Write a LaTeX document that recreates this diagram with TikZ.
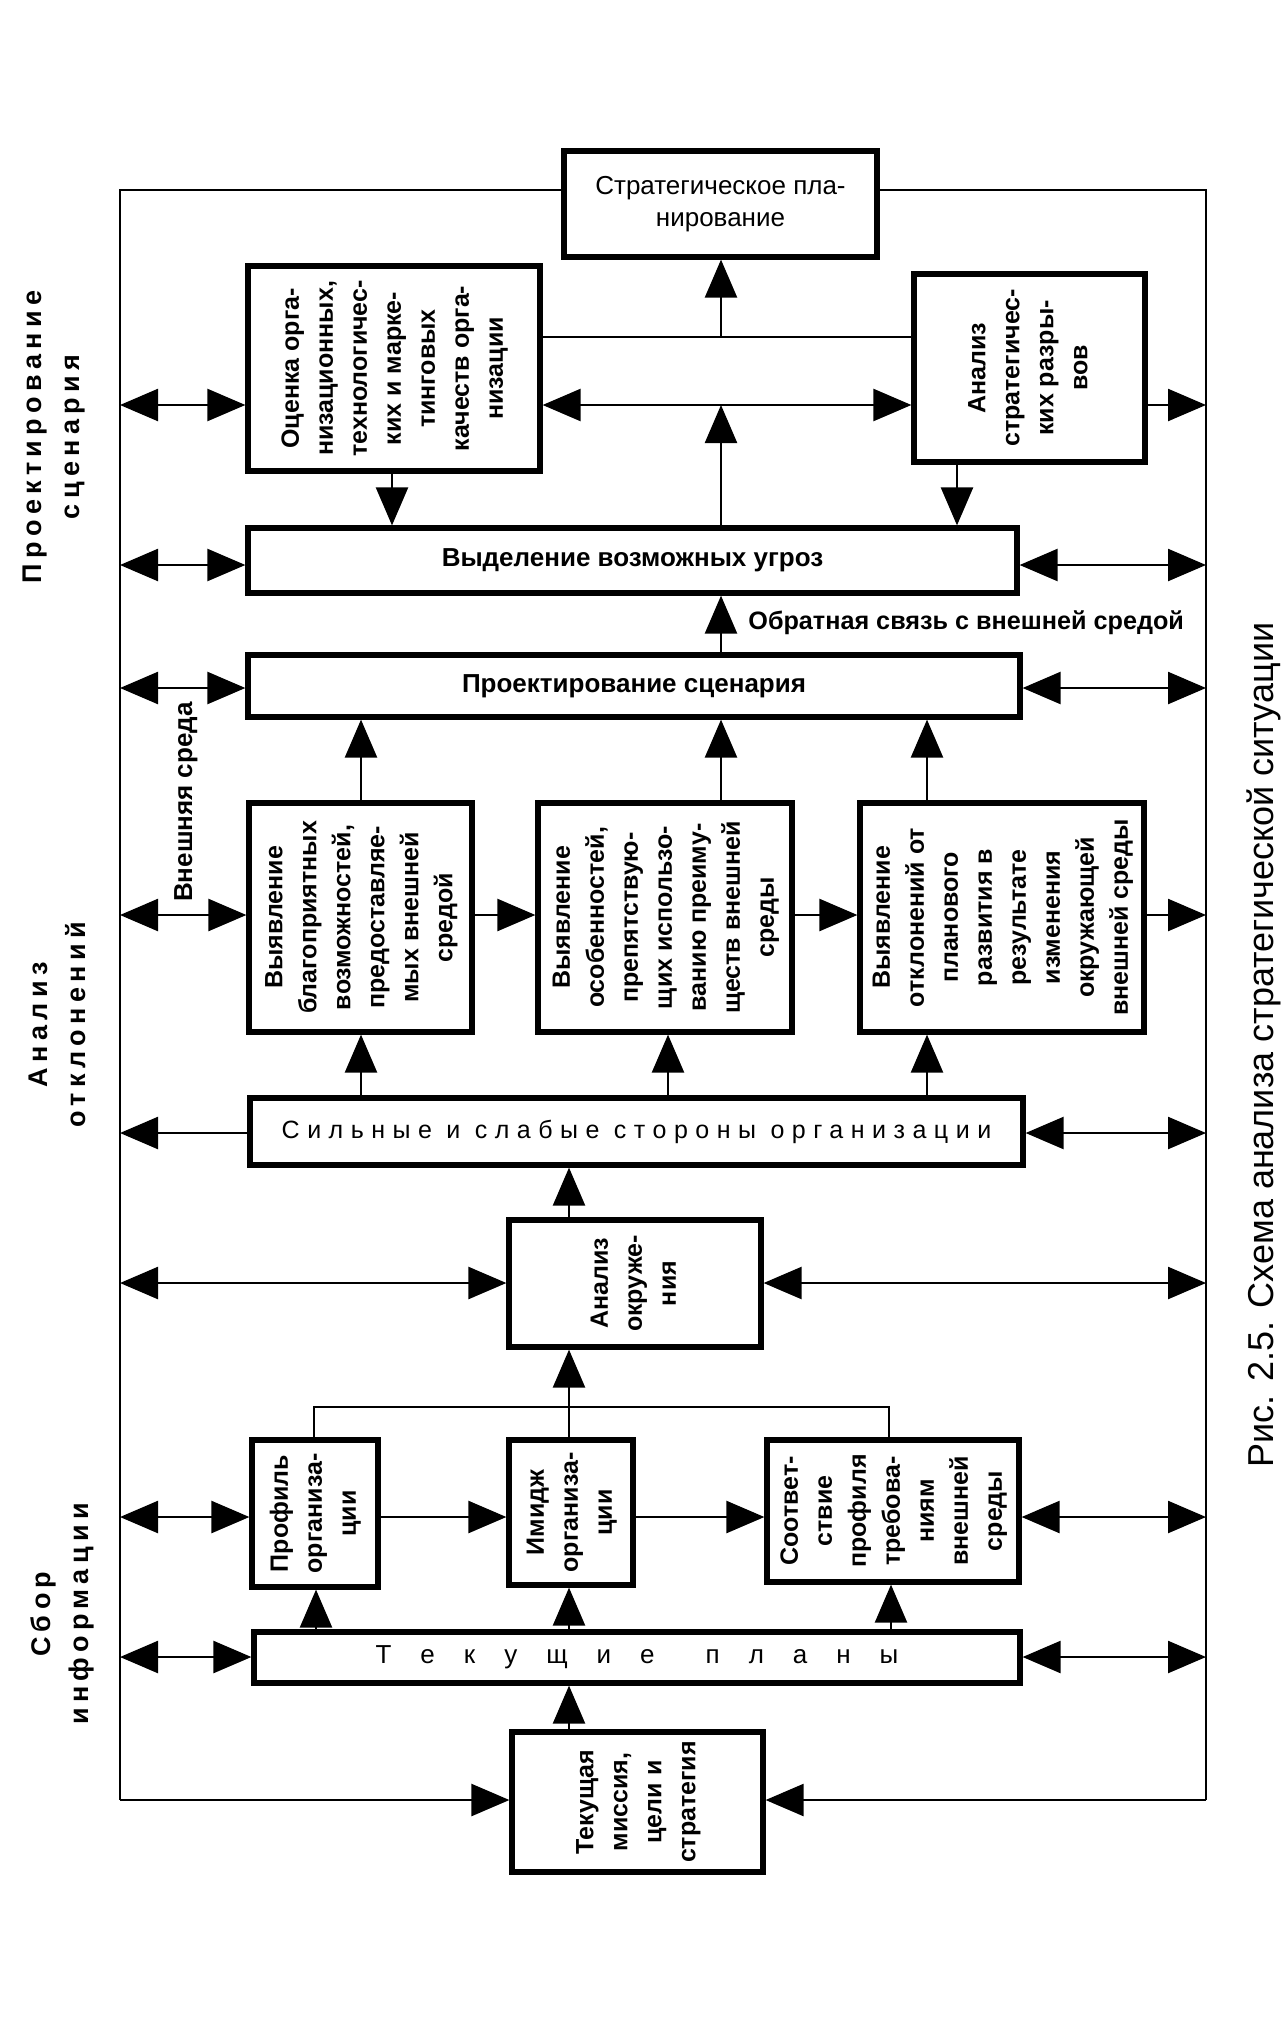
\documentclass[tikz,border=0pt]{standalone}
\usepackage{fontspec}
\setmainfont{Liberation Sans}
\newfontfamily\lblfont[LetterSpace=20]{Liberation Sans}
\newfontfamily\silfont[LetterSpace=30]{Liberation Sans}
\usetikzlibrary{arrows.meta}
\newcommand\rtx[1]{\rotatebox{90}{\begin{tabular}{@{}c@{}}#1\end{tabular}}}
\begin{document}
\begin{tikzpicture}[x=0.5pt,y=-0.5pt,
  >={Triangle[length=19pt,width=16pt]},
  box/.style={draw,line width=2.6pt,inner sep=0pt,align=center},
  ln/.style={line width=1.2pt},
  arr/.style={ln,->},
  dbl/.style={ln,<->},
  rt/.style={font=\fontsize{12.5}{17}\selectfont\bfseries},
  ht/.style={font=\fontsize{13}{16}\selectfont},
  lbl/.style={rotate=90,align=center,font=\fontsize{13.5}{19}\selectfont\lblfont\bfseries}
]
\useasboundingbox (0,0) rectangle (1288,2040);
\fill[white] (0,0) rectangle (1288,2040);

% boxes
\node[box,ht,minimum width=156.5pt,minimum height=53pt] (strat) at (720.5,204) {Стратегическое пла-\\нирование};
\node[box,rt,minimum width=146pt,minimum height=102.5pt] (ocenka) at (394,368.5) {\rtx{Оценка орга-\\низационных,\\технологичес-\\ких и марке-\\тинговых\\качеств орга-\\низации}};
\node[box,rt,minimum width=115.5pt,minimum height=94pt] (razryv) at (1029.5,368) {\rtx{Анализ\\стратегичес-\\ких разры-\\вов}};
\node[box,ht,font=\fontsize{13}{16}\selectfont\bfseries,minimum width=384.5pt,minimum height=32.5pt] (vydel) at (632.5,560.5) {Выделение возможных угроз};
\node[box,ht,font=\fontsize{13}{16}\selectfont\bfseries,minimum width=386pt,minimum height=31pt] (proekt) at (634,686) {Проектирование сценария};
\node[box,rt,minimum width=111.5pt,minimum height=114.5pt] (vyy1) at (360.5,917.5) {\rtx{Выявление\\благоприятных\\возможностей,\\предоставляе-\\мых внешней\\средой}};
\node[box,rt,minimum width=127pt,minimum height=114.5pt] (vyy2) at (665,917.5) {\rtx{Выявление\\особенностей,\\препятствую-\\щих использо-\\ванию преиму-\\ществ внешней\\среды}};
\node[box,rt,minimum width=142pt,minimum height=114.5pt] (vyy3) at (1002,917.5) {\rtx{Выявление\\отклонений от\\планового\\развития в\\результате\\изменения\\окружающей\\внешней среды}};
\node[box,font=\fontsize{12.5}{14}\selectfont\silfont,minimum width=386.5pt,minimum height=33.5pt] (silnye) at (636.5,1131.5) {Сильные и слабые стороны организации};
\node[box,rt,minimum width=126pt,minimum height=63.5pt] (okr) at (635,1283.5) {\rtx{Анализ\\окруже-\\ния}};
\node[box,rt,minimum width=63pt,minimum height=73.5pt] (profil) at (315,1513.5) {\rtx{Профиль\\организа-\\ции}};
\node[box,rt,minimum width=62pt,minimum height=72.5pt] (imidzh) at (571,1512.5) {\rtx{Имидж\\организа-\\ции}};
\node[box,rt,minimum width=126pt,minimum height=71pt] (sootv) at (893,1511) {\rtx{Соответ-\\ствие\\профиля\\требова-\\ниям\\внешней\\среды}};
\node[box,ht,minimum width=383pt,minimum height=25.5pt] (tekplan) at (637,1657.5) {{\spaceskip=14.5pt plus 0pt minus 0pt Т е к у щ и е\hspace{11pt} п л а н ы}};
\node[box,rt,minimum width=125.5pt,minimum height=70pt] (missia) at (637.5,1802) {\rtx{Текущая\\миссия,\\цели и\\стратегия}};

% labels
\node[lbl] (lab1) at (54,437) {Проектирование\\сценария};
\node[lbl] (lab2) at (57,1025) {Анализ\\отклонений};
\node[lbl] (lab3) at (62,1614) {Сбор\\информации};
\node[rotate=90,font=\fontsize{13}{16}\selectfont\bfseries] (vnsr) at (186,802) {Внешняя среда};
\node[anchor=west,font=\fontsize{12.6}{16}\selectfont\bfseries,inner sep=0pt] (fb) at (748,623) {Обратная связь с внешней средой};
\node[rotate=90,font=\fontsize{18}{20}\selectfont] (cap) at (1264,1045) {Рис. 2.5. Схема анализа стратегической ситуации};

% frame
\coordinate (FL) at (120,190);
\coordinate (FR) at (1206,190);
\coordinate (BL) at (120,1800);
\coordinate (BR) at (1206,1800);
\draw[ln] (FL -| strat.west) -- (FL) -- (BL);
\draw[ln] (FR -| strat.east) -- (FR) -- (BR);
\draw[arr] (BL) -- (BL -| missia.west);
\draw[arr] (BR) -- (BR -| missia.east);

% row coordinates
\coordinate (r1) at (0,405);
\coordinate (h1) at (0,337);
\coordinate (r2) at (0,565);
\coordinate (r3) at (0,688);
\coordinate (r4) at (0,915);
\coordinate (r5) at (0,1133);
\coordinate (r6) at (0,1283);
\coordinate (r7) at (0,1517);
\coordinate (r8) at (0,1657);
\coordinate (cx) at (721,0);
\coordinate (xa) at (392,0);
\coordinate (xb) at (957,0);
\coordinate (xc) at (361,0);
\coordinate (xd) at (927,0);
\coordinate (xe) at (668,0);
\coordinate (xf) at (569,0);
\coordinate (xg) at (314,0);
\coordinate (xh) at (889,0);
\coordinate (bk) at (0,1407);

% top block
\draw[ln] (ocenka.east |- h1) -- (razryv.west |- h1);
\draw[arr] (cx |- h1) -- (strat.south -| cx);
\draw[dbl] (FL |- r1) -- (ocenka.west |- r1);
\draw[dbl] (ocenka.east |- r1) -- (razryv.west |- r1);
\draw[arr] (razryv.east |- r1) -- (FR |- r1);
\draw[arr] (vydel.north -| cx) -- (cx |- r1);
\draw[arr] (ocenka.south -| xa) -- (vydel.north -| xa);
\draw[arr] (razryv.south -| xb) -- (vydel.north -| xb);

% vydel / proekt
\draw[dbl] (FL |- r2) -- (vydel.west |- r2);
\draw[dbl] (vydel.east |- r2) -- (FR |- r2);
\draw[arr] (proekt.north -| cx) -- (vydel.south -| cx);
\draw[dbl] (FL |- r3) -- (proekt.west |- r3);
\draw[dbl] (proekt.east |- r3) -- (FR |- r3);

% vyyavlenie
\draw[arr] (vyy1.north -| xc) -- (proekt.south -| xc);
\draw[arr] (vyy2.north -| cx) -- (proekt.south -| cx);
\draw[arr] (vyy3.north -| xd) -- (proekt.south -| xd);
\draw[dbl] (FL |- r4) -- (vyy1.west |- r4);
\draw[arr] (vyy1.east |- r4) -- (vyy2.west |- r4);
\draw[arr] (vyy2.east |- r4) -- (vyy3.west |- r4);
\draw[arr] (vyy3.east |- r4) -- (FR |- r4);

% silnye
\draw[arr] (silnye.north -| xc) -- (vyy1.south -| xc);
\draw[arr] (silnye.north -| xe) -- (vyy2.south -| xe);
\draw[arr] (silnye.north -| xd) -- (vyy3.south -| xd);
\draw[arr] (silnye.west |- r5) -- (FL |- r5);
\draw[dbl] (silnye.east |- r5) -- (FR |- r5);

% analiz okruzheniya
\draw[arr] (okr.north -| xf) -- (silnye.south -| xf);
\draw[dbl] (FL |- r6) -- (okr.west |- r6);
\draw[dbl] (okr.east |- r6) -- (FR |- r6);
\draw[ln] (profil.north -| xg) -- (xg |- bk) -- (xh |- bk) -- (sootv.north -| xh);
\draw[ln] (imidzh.north -| xf) -- (xf |- bk);
\draw[arr] (xf |- bk) -- (okr.south -| xf);

% profile row
\draw[dbl] (FL |- r7) -- (profil.west |- r7);
\draw[arr] (profil.east |- r7) -- (imidzh.west |- r7);
\draw[arr] (imidzh.east |- r7) -- (sootv.west |- r7);
\draw[dbl] (sootv.east |- r7) -- (FR |- r7);

% tekushchie plany
\coordinate (xi) at (316,0);
\coordinate (xj) at (891,0);
\draw[arr] (tekplan.north -| xi) -- (profil.south -| xi);
\draw[arr] (tekplan.north -| xf) -- (imidzh.south -| xf);
\draw[arr] (tekplan.north -| xj) -- (sootv.south -| xj);
\draw[dbl] (FL |- r8) -- (tekplan.west |- r8);
\draw[dbl] (tekplan.east |- r8) -- (FR |- r8);
\draw[arr] (missia.north -| xf) -- (tekplan.south -| xf);
\end{tikzpicture}
\end{document}
